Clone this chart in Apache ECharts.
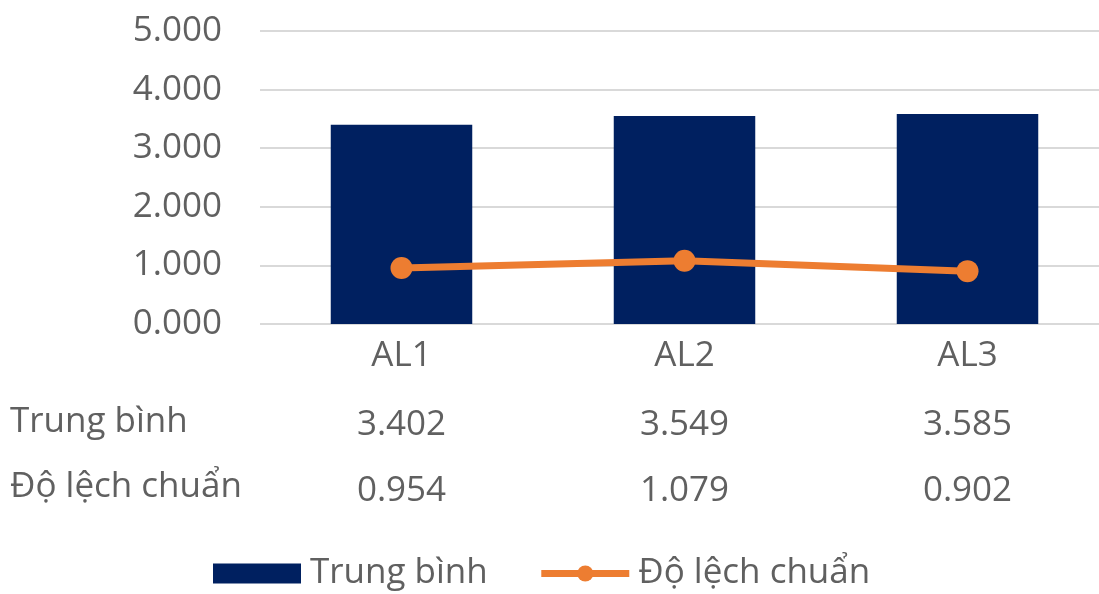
<!DOCTYPE html>
<html>
<head>
<meta charset="utf-8">
<script src="https://cdn.jsdelivr.net/npm/echarts@6/dist/echarts.min.js"></script>
<style>
  html, body { margin: 0; padding: 0; background: #ffffff; }
  #chart { width: 1099px; height: 594px; }
</style>
</head>
<body>
<div id="chart"></div>
<script>
// Categories and series values
const categories = ['AL1', 'AL2', 'AL3'];
const meanValues = [3.402, 3.549, 3.585];
const stdValues = [0.954, 1.079, 0.902];
const seriesNames = ['Trung bình', 'Độ lệch chuẩn'];
const yTicks = { min: 0, max: 5, interval: 1 };

const FONT = '"Open Sans", "Noto Sans", sans-serif';
const TEXT = '#606060';
const FS = 35;
const ORANGE = '#ed7d31';
const NAVY = '#002060';

const fmt3 = v => Number(v).toFixed(3);

const chart = echarts.init(document.getElementById('chart'), null, { renderer: 'canvas' });

// One hidden-line category axis per row of the data table under the plot
function tableAxis(labels, offset) {
  return {
    type: 'category',
    data: categories,
    position: 'bottom',
    offset: offset,
    axisLine: { show: false },
    axisTick: { show: false },
    axisLabel: {
      margin: 15,
      fontFamily: FONT,
      fontSize: FS,
      color: TEXT,
      formatter: (val, idx) => labels[idx]
    }
  };
}

chart.setOption({
  animation: false,
  textStyle: { fontFamily: FONT },
  grid: { left: 260, width: 849, top: 31, bottom: 270, outerBoundsMode: 'none', containLabel: false },
  xAxis: [
    {
      type: 'category',
      data: categories,
      axisLine: { show: false },
      axisTick: { show: false },
      axisLabel: { margin: 15, fontFamily: FONT, fontSize: FS, color: TEXT }
    },
    tableAxis(meanValues.map(fmt3), 69),
    tableAxis(stdValues.map(fmt3), 135)
  ],
  yAxis: {
    type: 'value',
    min: yTicks.min,
    max: yTicks.max,
    interval: yTicks.interval,
    axisLine: { show: false },
    axisTick: { show: false },
    splitLine: { lineStyle: { color: '#d9d9d9', width: 2 } },
    axisLabel: {
      margin: 38,
      fontFamily: FONT,
      fontSize: FS,
      color: TEXT,
      formatter: v => fmt3(v)
    }
  },
  legend: {
    bottom: -2,
    left: 208,
    itemWidth: 88,
    itemHeight: 20,
    itemGap: 50,
    textStyle: { fontFamily: FONT, fontSize: FS, color: TEXT, padding: [0, 0, 0, 4] },
    data: [
      { name: seriesNames[0], icon: 'rect' },
      {
        name: seriesNames[1],
        itemStyle: { color: ORANGE },
        lineStyle: { color: ORANGE, width: 7 }
      }
    ]
  },
  graphic: [
    {
      type: 'text', left: 10, top: 405,
      style: { text: seriesNames[0], fontFamily: FONT, fontSize: FS, fill: TEXT }
    },
    {
      type: 'text', left: 10, top: 470,
      style: { text: seriesNames[1], fontFamily: FONT, fontSize: FS, fill: TEXT }
    }
  ],
  series: [
    {
      name: seriesNames[0],
      type: 'bar',
      data: meanValues,
      barWidth: '50%',
      itemStyle: { color: NAVY },
      z: 2
    },
    {
      name: seriesNames[1],
      type: 'line',
      data: stdValues,
      symbol: 'circle',
      symbolSize: 22,
      lineStyle: { color: ORANGE, width: 7 },
      itemStyle: { color: ORANGE },
      z: 3
    }
  ]
});
</script>
</body>
</html>
